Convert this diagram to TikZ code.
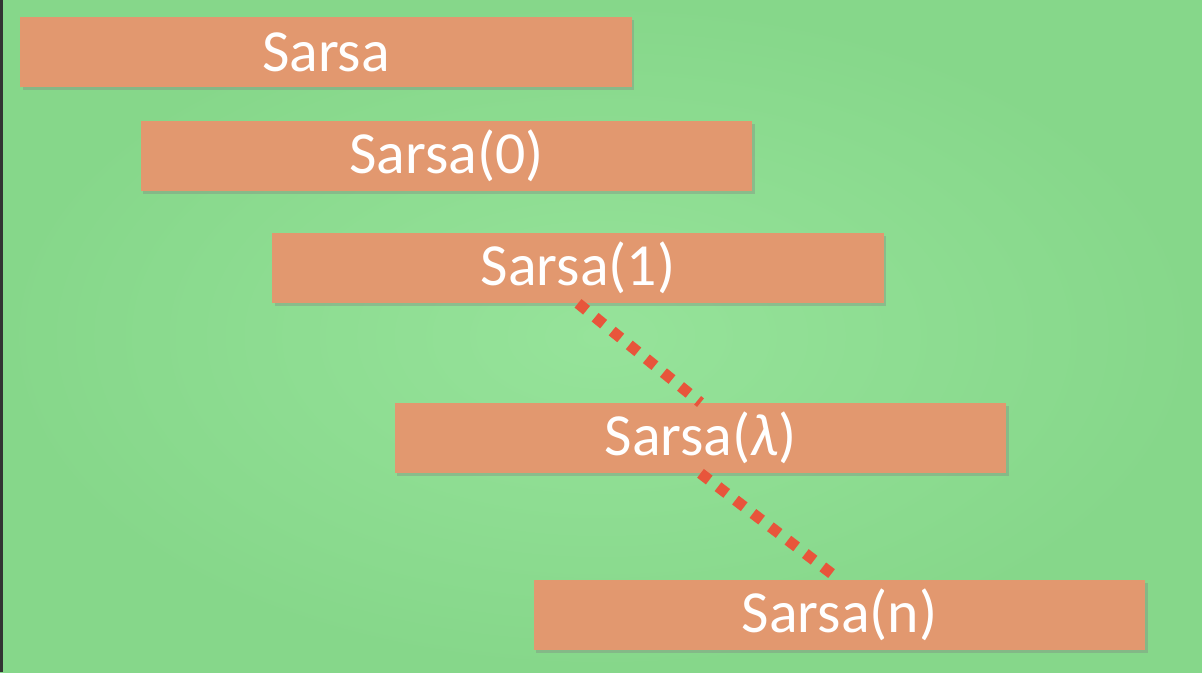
\documentclass[tikz,border=0pt]{standalone}
\usepackage{fontspec}
\setmainfont{Carlito}
\usepackage{xcolor}
\usetikzlibrary{shadows}
\definecolor{bggreen}{HTML}{86D78A}
\definecolor{bglight}{HTML}{96E39A}
\definecolor{boxfill}{HTML}{E2986F}
\definecolor{dotred}{HTML}{E8553B}

\tikzset{
	sarsabox/.style={fill=boxfill, minimum width=12.24cm, minimum height=1.4cm, inner sep=0pt,
		text=white, font=\fontsize{34}{40}\selectfont,
		drop shadow={shadow xshift=0.05cm, shadow yshift=-0.06cm, opacity=0.35}},
	dotline/.style={dotred, line width=0.22cm, dash pattern=on 0.22cm off 0.22cm}
}

\begin{document}
\begin{tikzpicture}[x=0.02cm, y=-0.02cm]
		\useasboundingbox (0,0) rectangle (1202,672);
		\shade[inner color=bglight, outer color=bggreen] (0,0) rectangle (1202,672);
		\fill[black!80] (0,0) rectangle (3,672);

		\node[sarsabox] (s) at (326,52) {Sarsa};
		\node[sarsabox] (s0) at (446.5,156) {Sarsa(0)};
		\node[sarsabox] (s1) at (578,268) {Sarsa(1)};
		\node[sarsabox] (sl) at (700.5,438) {Sarsa({\itshape λ})};
		\node[sarsabox] (sn) at (839.5,615) {Sarsa(n)};

		\draw[dotline] (s1.south) -- (sl.north);
		\draw[dotline] (sl.south) -- (sn.north);
	\end{tikzpicture}
\end{document}
